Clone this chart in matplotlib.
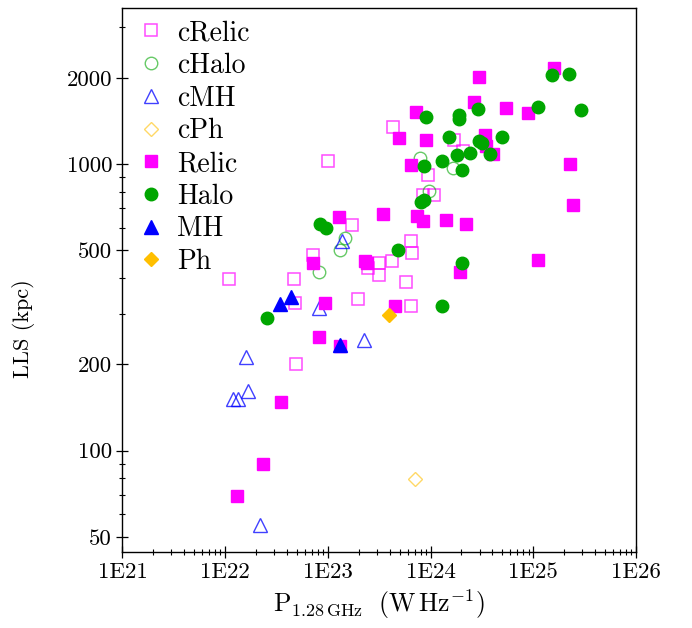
import matplotlib
matplotlib.use("Agg")
import matplotlib.pyplot as plt
import numpy as np

plt.rcParams["font.family"] = "serif"
plt.rcParams["font.serif"] = ["cmr10", "DejaVu Serif"]
plt.rcParams["mathtext.fontset"] = "cm"
plt.rcParams["axes.unicode_minus"] = False
plt.rcParams["axes.formatter.use_mathtext"] = True

# candidate sources (open markers)
crelic_p = [4.27e23, 1.01e23, 1.69e24, 2.09e24, 9.46e23, 8.45e23, 1.09e24, 1.70e23,
            7.21e22, 6.41e23, 6.62e23, 3.15e23, 4.25e23, 2.46e23, 3.16e23, 5.74e23,
            1.09e22, 4.68e22, 4.78e22, 1.98e23, 6.43e23, 4.92e22]
crelic_lls = [1343, 1026, 1210, 1113, 918, 782, 782, 614,
              483, 541, 491, 452, 460, 434, 409, 389,
              397, 397, 328, 339, 319, 200]

chalo_p = [7.82e23, 1.67e24, 9.67e23, 1.48e23, 1.31e23, 8.15e22]
chalo_lls = [1047, 970, 807, 552, 502, 419]

cmh_p = [1.38e23, 8.25e22, 2.27e23, 1.61e22, 1.20e22, 1.33e22, 1.65e22, 2.16e22]
cmh_lls = [540, 314, 243, 213, 151, 151, 161, 55.2]

cph_p = [7.05e23]
cph_lls = [79.6]

# confirmed sources (filled markers)
relic_p = [1.61e25, 2.95e24, 2.64e24, 5.37e24, 8.92e24, 7.24e23, 4.96e23, 9.12e23,
           3.39e24, 3.46e24, 4.05e24, 6.44e23, 2.28e25, 2.46e25, 1.29e23, 3.46e23,
           7.43e23, 8.39e23, 1.42e24, 2.22e24, 7.21e22, 2.29e23, 2.42e23, 1.92e24,
           1.10e25, 9.43e22, 4.53e23, 8.15e22, 1.30e23, 3.47e22, 2.34e22, 1.31e22]
relic_lls = [2168, 2018, 1653, 1572, 1504, 1518, 1234, 1216,
             1260, 1154, 1085, 994, 1004, 721, 656, 669,
             661, 633, 638, 619, 451, 460, 450, 419,
             462, 328, 319, 250, 231, 148, 89.6, 69.5]

halo_p = [1.51e25, 2.23e25, 1.12e25, 2.90e25, 9.12e23, 1.90e24, 1.90e24, 2.90e24,
          1.50e24, 2.96e24, 3.19e24, 4.93e24, 3.80e24, 2.42e24, 1.80e24, 1.30e24,
          8.59e23, 2.03e24, 8.10e23, 8.68e23, 8.38e22, 9.69e22, 4.80e23, 2.03e24,
          1.30e24, 2.58e22]
halo_lls = [2051, 2067, 1588, 1539, 1458, 1487, 1434, 1554,
            1245, 1206, 1181, 1245, 1084, 1097, 1073, 1029,
            986, 955, 740, 750, 619, 599, 502, 451,
            319, 290]

mh_p = [4.37e22, 3.42e22, 1.31e23]
mh_lls = [345, 324, 233]

ph_p = [3.98e23]
ph_lls = [298]

xticks = [1e21, 1e22, 1e23, 1e24, 1e25, 1e26]
xticklabels = ["1E21", "1E22", "1E23", "1E24", "1E25", "1E26"]
yticks = [50, 100, 200, 500, 1000, 2000]
yticklabels = ["50", "100", "200", "500", "1000", "2000"]

MAG = "#ff00ff"
GRN = "#00a600"
BLU = "#0000ff"
ORG = "#ffbf00"

fig = plt.figure(figsize=(6.92, 6.28), dpi=100)
ax = fig.add_axes([0.177, 0.121, 0.742, 0.866])

ax.plot(crelic_p, crelic_lls, "s", ms=8.8, mfc="none", mec=MAG, mew=1.1, alpha=0.7, ls="none", label="cRelic")
ax.plot(chalo_p, chalo_lls, "o", ms=9, mfc="none", mec=GRN, mew=1.0, alpha=0.6, ls="none", label="cHalo")
ax.plot(cmh_p, cmh_lls, "^", ms=10.5, mfc="none", mec=BLU, mew=1.0, alpha=0.75, ls="none", label="cMH")
ax.plot(cph_p, cph_lls, "D", ms=7, mfc="none", mec=ORG, mew=1.0, alpha=0.6, ls="none", label="cPh")
ax.plot(relic_p, relic_lls, "s", ms=8.8, color=MAG, mec=MAG, ls="none", label="Relic")
ax.plot(halo_p, halo_lls, "o", ms=9, color=GRN, mec=GRN, ls="none", label="Halo")
ax.plot(mh_p, mh_lls, "^", ms=10.5, color=BLU, mec=BLU, ls="none", label="MH")
ax.plot(ph_p, ph_lls, "D", ms=7, color=ORG, mec=ORG, ls="none", label="Ph")

ax.set_xscale("log")
ax.set_yscale("log")
ax.set_xlim(1e21, 1e26)
ax.set_ylim(44.3, 3500)

ax.set_xticks(xticks)
ax.set_xticklabels(xticklabels)
ax.set_yticks(yticks)
ax.set_yticklabels(yticklabels)
ax.yaxis.set_minor_locator(matplotlib.ticker.LogLocator(base=10, subs=np.arange(2, 10)))
ax.yaxis.set_minor_formatter(matplotlib.ticker.NullFormatter())
ax.xaxis.set_minor_locator(matplotlib.ticker.LogLocator(base=10, subs=np.arange(2, 10)))
ax.xaxis.set_minor_formatter(matplotlib.ticker.NullFormatter())

ax.tick_params(which="major", direction="inout", length=8, width=0.9, labelsize=16.5)
ax.tick_params(which="minor", direction="inout", length=5, width=0.8)
for s in ax.spines.values():
    s.set_linewidth(1.0)

ax.set_xlabel(r"$\mathrm{P_{1.28\,GHz}}\ \ \mathrm{(W\,Hz^{-1})}$", fontsize=18.5, labelpad=4)
ax.set_ylabel("LLS (kpc)", fontsize=16)
ax.yaxis.set_label_coords(-0.17, 0.41)

ax.legend(loc="upper left", frameon=False, fontsize=20, handletextpad=0.33,
          labelspacing=0.23, borderaxespad=0.1, handlelength=1.2, borderpad=0.32)

fig.savefig("out.png", dpi=100, facecolor="white")
